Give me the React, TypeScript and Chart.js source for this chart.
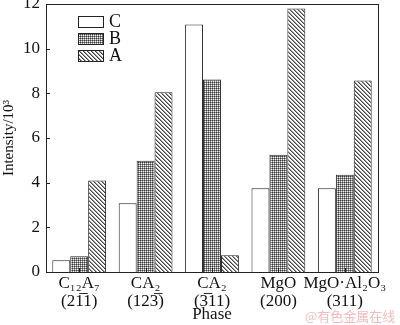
import React, { useEffect, useRef } from "react";
import { Chart, registerables } from "chart.js";

Chart.register(...registerables);

const categories: string[][] = [
  ["C₁₂A₇", "(21̅1)"],
  ["CA₂", "(123̅)"],
  ["CA₂", "(3̅11)"],
  ["MgO", "(200)"],
  ["MgO·Al₂O₃", "(311)"],
];
const seriesC = [0.53, 3.08, 11.08, 3.75, 3.75];
const seriesB = [0.7, 4.98, 8.62, 5.25, 4.35];
const seriesA = [4.1, 8.05, 0.75, 11.8, 8.57];
const yTicks = [0, 2, 4, 6, 8, 10, 12];
const xTitle = "Phase";
const yTitle = "Intensity/10³";
const watermark = "@有色金属在线";

function makeCross(): CanvasPattern | string {
  const c = document.createElement("canvas");
  c.width = 2;
  c.height = 2;
  const g = c.getContext("2d");
  if (!g) return "#888";
  g.fillStyle = "#f4f4f4";
  g.fillRect(0, 0, 2, 2);
  g.fillStyle = "#3c3c3c";
  g.fillRect(0, 0, 1, 1);
  g.fillStyle = "#8a8a8a";
  g.fillRect(1, 0, 1, 1);
  g.fillRect(0, 1, 1, 1);
  return g.createPattern(c, "repeat") || "#888";
}

function makeDiag(): CanvasPattern | string {
  const n = 4;
  const c = document.createElement("canvas");
  c.width = n;
  c.height = n;
  const g = c.getContext("2d");
  if (!g) return "#aaa";
  g.fillStyle = "#ffffff";
  g.fillRect(0, 0, n, n);
  for (let y = 0; y < n; y++) {
    for (let x = 0; x < n; x++) {
      const d = (((x - y) % n) + n) % n;
      if (d === 0) {
        g.fillStyle = "#444";
        g.fillRect(x, y, 1, 1);
      } else if (d === 1) {
        g.fillStyle = "#999";
        g.fillRect(x, y, 1, 1);
      }
    }
  }
  return g.createPattern(c, "repeat") || "#aaa";
}

const framePlugin = {
  id: "frameTicks",
  afterDatasetsDraw(chart: any) {
    const { ctx, chartArea: a, scales } = chart;
    ctx.save();
    ctx.strokeStyle = "#222";
    ctx.lineWidth = 1;
    ctx.strokeRect(Math.round(a.left) + 0.5, Math.round(a.top) + 0.5, Math.round(a.right - a.left), Math.round(a.bottom - a.top));
    ctx.beginPath();
    for (const v of yTicks) {
      const y = Math.round(scales.y.getPixelForValue(v)) + 0.5;
      ctx.moveTo(a.left, y);
      ctx.lineTo(a.left + 4, y);
    }
    for (let i = 0; i < categories.length; i++) {
      const x = Math.round(scales.x.getPixelForValue(i)) + 0.5;
      ctx.moveTo(x, a.bottom);
      ctx.lineTo(x, a.bottom - 4);
    }
    ctx.stroke();

    // legend
    const ds = chart.data.datasets;
    const boxL = 78, boxW = 25, boxH = 11;
    const tops = [16, 33, 50];
    ctx.font = "18px 'Liberation Serif', serif";
    ctx.textBaseline = "middle";
    ctx.textAlign = "left";
    ds.forEach((d: any, i: number) => {
      const t = tops[i];
      ctx.fillStyle = d.backgroundColor;
      ctx.fillRect(boxL, t, boxW, boxH);
      ctx.strokeStyle = "#222";
      ctx.strokeRect(boxL + 0.5, t + 0.5, boxW, boxH);
      ctx.fillStyle = "#111";
      ctx.fillText(d.label, boxL + 31, t + boxH / 2 + 1);
    });

    // watermark
    ctx.font = "13px 'Noto Sans CJK SC', sans-serif";
    ctx.fillStyle = "rgba(236,150,150,0.65)";
    ctx.textAlign = "left";
    ctx.fillText(watermark, 305, 316);
    ctx.restore();
  },
};

export default function App() {
  const ref = useRef<HTMLCanvasElement | null>(null);
  useEffect(() => {
    document.body.style.margin = "0";
    const canvas = ref.current;
    if (!canvas) return;
    Chart.defaults.font.family = "'Liberation Serif', serif";
    Chart.defaults.color = "#111";
    const chart = new Chart(canvas, {
      type: "bar",
      data: {
        labels: categories,
        datasets: [
          { label: "C", data: seriesC, backgroundColor: "#ffffff", borderColor: "#222", borderWidth: 1 },
          { label: "B", data: seriesB, backgroundColor: makeCross() as any, borderColor: "#222", borderWidth: 1 },
          { label: "A", data: seriesA, backgroundColor: makeDiag() as any, borderColor: "#222", borderWidth: 1 },
        ],
      },
      options: {
        animation: false,
        responsive: false,
        maintainAspectRatio: false,
        layout: { padding: { top: 4, right: 22, left: 0, bottom: 0 } },
        datasets: { bar: { categoryPercentage: 0.81, barPercentage: 1 } },
        plugins: { legend: { display: false }, tooltip: { enabled: false } },
        scales: {
          x: {
            grid: { display: false, drawTicks: false },
            border: { display: true, color: "#222" },
            ticks: { font: { size: 17, lineHeight: 1.08 }, color: "#111", maxRotation: 0, autoSkip: false, padding: 2 },
            title: { display: true, text: xTitle, font: { size: 17 }, color: "#111", padding: { top: 0, bottom: 0 } },
            afterFit: (s: any) => { s.height = 53; s.paddingLeft = 0; s.paddingRight = 0; },
          },
          y: {
            min: 0,
            max: 12,
            grid: { display: false, drawTicks: false },
            border: { display: true, color: "#222" },
            ticks: { stepSize: 2, font: { size: 17 }, color: "#111", padding: 6 },
            title: { display: true, text: yTitle, font: { size: 15 }, color: "#111", padding: { top: 0, bottom: 4 } },
            afterFit: (s: any) => { s.width = 46; s.paddingTop = 0; s.paddingBottom = 0; },
          },
        },
      },
      plugins: [framePlugin],
    });
    return () => chart.destroy();
  }, []);
  return <canvas ref={ref} width={400} height={325} style={{ display: "block" }} />;
}
